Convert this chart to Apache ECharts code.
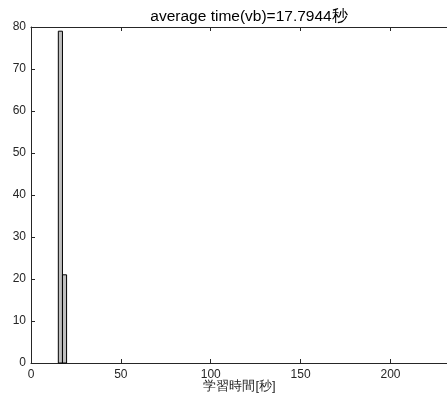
<!DOCTYPE html>
<html>
<head>
<meta charset="utf-8">
<script src="https://cdn.jsdelivr.net/npm/echarts@6/dist/echarts.min.js"></script>
<style>
html, body { margin: 0; padding: 0; background: #fff; }
#chart { width: 447px; height: 401px; }
</style>
</head>
<body>
<div id="chart"></div>
<script>
// Histogram of training times (seconds)
const binEdges = [15.2, 17.5, 19.8];
const counts = [79, 21];
const titleText = 'average time(vb)=17.7944秒';
const xLabel = '学習時間[秒]';
const xTicks = [0, 50, 100, 150, 200];
const yTicks = [0, 10, 20, 30, 40, 50, 60, 70, 80];

const bins = counts.map((c, i) => [binEdges[i], binEdges[i + 1], c]);

const axisColor = '#262626';
const font = 'Liberation Sans, Arial, Helvetica, sans-serif';

const chart = echarts.init(document.getElementById('chart'));
chart.setOption({
  animation: false,
  title: {
    text: titleText,
    left: 244,
    top: 4,
    textAlign: 'center',
    textStyle: { fontFamily: font, fontSize: 15.5, fontWeight: 'normal', color: '#000' }
  },
  grid: { left: 31, right: -1, top: 27, bottom: 38, containLabel: false, outerBoundsMode: 'none' },
  xAxis: [{
    type: 'value',
    min: 0, max: 232, interval: 50,
    name: xLabel,
    nameLocation: 'middle',
    nameGap: 17,
    nameMoveOverlap: false,
    nameTextStyle: { fontFamily: font, fontSize: 13, color: axisColor },
    axisLine: { show: true, lineStyle: { color: axisColor, width: 1 } },
    axisTick: { show: true, inside: true, length: 4, lineStyle: { color: axisColor } },
    axisLabel: { fontFamily: font, fontSize: 12, color: axisColor, margin: 6,
      formatter: v => xTicks.includes(v) ? String(v) : '' },
    splitLine: { show: false }
  }, {
    type: 'value',
    position: 'top',
    min: 0, max: 232, interval: 50,
    axisLine: { show: true, lineStyle: { color: axisColor, width: 1 } },
    axisTick: { show: true, inside: true, length: 4, lineStyle: { color: axisColor } },
    axisLabel: { show: false },
    splitLine: { show: false }
  }],
  yAxis: [{
    type: 'value',
    min: 0, max: 80, interval: 10,
    axisLine: { show: true, lineStyle: { color: axisColor, width: 1 } },
    axisTick: { show: true, inside: true, length: 4, lineStyle: { color: axisColor } },
    axisLabel: { fontFamily: font, fontSize: 12, color: axisColor, margin: 5,
      formatter: v => yTicks.includes(v) ? String(v) : '' },
    splitLine: { show: false }
  }],
  series: [{
    type: 'custom',
    xAxisIndex: 0,
    yAxisIndex: 0,
    data: bins,
    renderItem: function (params, api) {
      const p0 = api.coord([api.value(0), 0]);
      const p1 = api.coord([api.value(1), api.value(2)]);
      return {
        type: 'rect',
        shape: { x: p0[0], y: p1[1], width: p1[0] - p0[0], height: p0[1] - p1[1] },
        style: { fill: '#bfbfbf', stroke: '#000', lineWidth: 1 }
      };
    }
  }]
});
</script>
</body>
</html>
